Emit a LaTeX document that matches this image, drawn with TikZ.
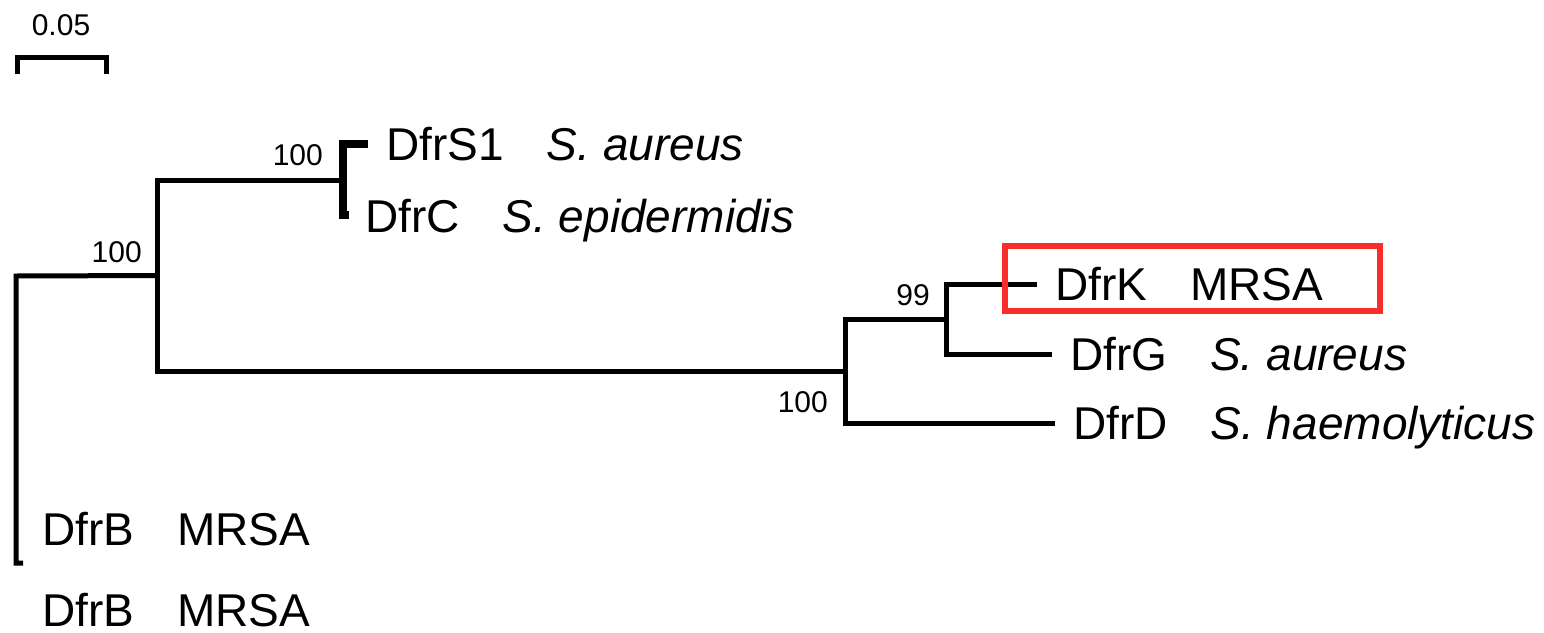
\documentclass[tikz,border=0pt]{standalone}
\usepackage{fontspec}
\setmainfont{Liberation Sans}
\definecolor{boxred}{RGB}{250,45,45}
\newcommand{\spgap}{\hspace{43pt}}
\begin{document}
\begin{tikzpicture}[x=1pt,y=-1pt,
  branch/.style={line width=5pt,line join=miter,line cap=butt},
  leaf/.style={anchor=base west,inner sep=0pt,font=\fontsize{46}{54}\selectfont},
  boot/.style={anchor=base east,inner sep=0pt,font=\fontsize{30}{36}\selectfont},
  scalelab/.style={anchor=base,inner sep=0pt,font=\fontsize{30}{36}\selectfont}]
\useasboundingbox (0,0) rectangle (1544,632);

% internal nodes of the tree
\coordinate (root) at (16,276);
\coordinate (rootlow) at (16,563);
\coordinate (nA) at (157,275.5);
\coordinate (nB) at (343,180);
\coordinate (nD) at (845,371);
\coordinate (nE) at (946,319);

% leaf tips
\coordinate (tS1) at (368,144);
\coordinate (tC) at (349,215);
\coordinate (tK) at (1037,284);
\coordinate (tG) at (1052,354);
\coordinate (tD) at (1055,423);
\coordinate (tB) at (23,563);

% scale bar ends
\coordinate (sbL) at (17,57);
\coordinate (sbR) at (106,57);

% branches
\draw[branch] (nA) -- (root) -- (rootlow) -- (tB);
\draw[branch] (nB) -- (nB -| nA) -- (nD -| nA) -- (nD);
\draw[branch,line width=8pt] (tS1) -- (tS1 -| nB) -- (tC -| nB) -- (tC);
\draw[branch] (nE) -- (nE -| nD) -- (tD -| nD) -- (tD);
\draw[branch] (tK) -- (tK -| nE) -- (tG -| nE) -- (tG);

% scale bar
\draw[branch] ([yshift=-17pt]sbL) -- (sbL) -- (sbR) -- ([yshift=-17pt]sbR);
\node[scalelab] (scale) at (61,35) {0.05};

% bootstrap values
\node[boot] (bA) at (142,262) {100};
\node[boot] (bB) at (323,165) {100};
\node[boot] (bE) at (930,305) {99};
\node[boot] (bD) at (828,412) {100};

% leaf labels
\node[leaf] (lS1) at (386,160) {DfrS1\spgap\textit{S. aureus}};
\node[leaf] (lC) at (365,232) {DfrC\spgap\textit{S. epidermidis}};
\node[leaf] (lK) at (1055,300) {DfrK\spgap MRSA};
\node[leaf] (lG) at (1070,370) {DfrG\spgap\textit{S. aureus}};
\node[leaf] (lD) at (1073,439) {DfrD\spgap\textit{S. haemolyticus}};
\node[leaf] (lB1) at (42,545) {DfrB\spgap MRSA};
\node[leaf] (lB2) at (42,626) {DfrB\spgap MRSA};

% highlight frame
\draw[boxred,line width=6pt] (1005,246) rectangle (1380,311);
\end{tikzpicture}
\end{document}
